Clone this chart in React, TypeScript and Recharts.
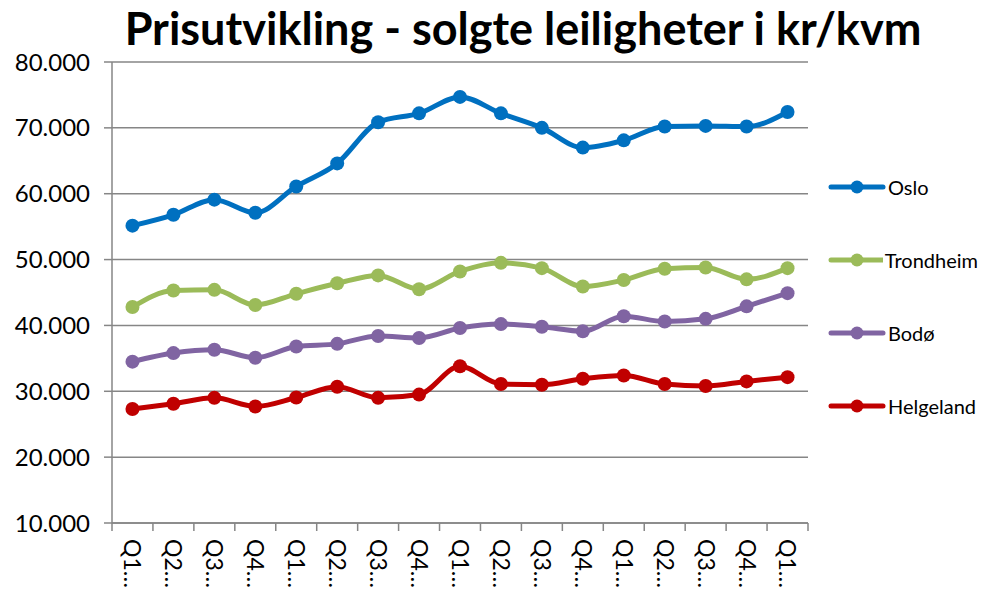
import React from "react";
import { LineChart, Line, XAxis, YAxis, CartesianGrid, Legend } from "recharts";

const quarters = ["Q1…","Q2…","Q3…","Q4…","Q1…","Q2…","Q3…","Q4…","Q1…","Q2…","Q3…","Q4…","Q1…","Q2…","Q3…","Q4…","Q1…"];
const oslo = [55150, 56800, 59100, 57100, 61100, 64600, 70850, 72200, 74700, 72200, 70000, 67000, 68100, 70200, 70300, 70200, 72400];
const trondheim = [42800, 45300, 45400, 43100, 44800, 46400, 47600, 45500, 48200, 49500, 48700, 45900, 46900, 48600, 48800, 47000, 48700];
const bodo = [34500, 35800, 36300, 35100, 36800, 37200, 38400, 38100, 39600, 40200, 39800, 39100, 41400, 40600, 41000, 42900, 44900];
const helgeland = [27300, 28100, 29000, 27700, 29050, 30700, 29000, 29500, 33800, 31100, 31000, 31900, 32400, 31100, 30800, 31500, 32150];
const yTicks = [10000, 20000, 30000, 40000, 50000, 60000, 70000, 80000];

const series = [
  { key: "oslo", name: "Oslo", color: "#0070C0", values: oslo },
  { key: "trondheim", name: "Trondheim", color: "#9BBB59", values: trondheim },
  { key: "bodo", name: "Bodø", color: "#8064A2", values: bodo },
  { key: "helgeland", name: "Helgeland", color: "#C00000", values: helgeland },
];

const data = quarters.map((q, i) => {
  const row: Record<string, string | number> = { q };
  series.forEach((s) => (row[s.key] = s.values[i]));
  return row;
});

const FONT = "Lato, 'Liberation Sans', sans-serif";
const AXIS = "#868686";
// half a category slot, so points sit between the boundary ticks like in Excel
const HALF_BAND = 696 / quarters.length / 2;

const fmt = (v: number) => `${Math.round(v / 1000)}.000`;

function XTick(props: any) {
  const { x, y, payload, index } = props;
  const last = index === quarters.length - 1;
  return (
    <g>
      <line x1={x - HALF_BAND} x2={x - HALF_BAND} y1={y} y2={y + 8} stroke={AXIS} strokeWidth={1.5} />
      {last && <line x1={x + HALF_BAND} x2={x + HALF_BAND} y1={y} y2={y + 8} stroke={AXIS} strokeWidth={1.5} />}
      <text
        transform={`translate(${x},${y + 16}) rotate(90)`}
        textAnchor="start"
        dy="0.35em"
        fontSize={23}
        fontFamily={FONT}
        fill="#000"
      >
        {payload.value}
      </text>
    </g>
  );
}

function LegendBox(props: any) {
  const payload = props.payload || [];
  const ordered = series
    .map((s) => payload.find((p: any) => p.value === s.name))
    .filter(Boolean);
  return (
    <div style={{ width: 150, fontFamily: FONT }}>
      {ordered.map((p: any) => (
        <div key={p.value} style={{ display: "flex", alignItems: "center", height: 73 }}>
          <svg width={58} height={16} style={{ marginRight: 2 }}>
            <line x1={3} x2={55} y1={8} y2={8} stroke={p.color} strokeWidth={5} strokeLinecap="round" />
            <circle cx={29} cy={8} r={6.5} fill={p.color} />
          </svg>
          <span style={{ fontSize: 20, color: "#000" }}>{p.value}</span>
        </div>
      ))}
    </div>
  );
}

export default function App() {
  return (
    <div style={{ position: "absolute", left: 0, top: 0, width: 986, height: 589, background: "#fff", fontFamily: FONT }}>
      <div
        style={{
          position: "absolute",
          left: 0,
          top: 2,
          width: 1046,
          textAlign: "center",
          fontSize: 45,
          fontWeight: 700,
          color: "#000",
          lineHeight: "52px",
        }}
      >
        Prisutvikling - solgte leiligheter i kr/kvm
      </div>
      <LineChart width={986} height={589} data={data} margin={{ top: 62, right: 28, bottom: 0, left: 0 }}>
        <CartesianGrid vertical={false} stroke={AXIS} strokeWidth={1.5} />
        <XAxis
          dataKey="q"
          interval={0}
          height={66}
          padding={{ left: HALF_BAND, right: HALF_BAND }}
          tickLine={false}
          tickSize={0}
          tickMargin={0}
          axisLine={{ stroke: AXIS, strokeWidth: 1.5 }}
          tick={<XTick />}
        />
        <YAxis
          width={112}
          domain={[10000, 80000]}
          ticks={yTicks}
          interval={0}
          tickFormatter={fmt}
          tickSize={8}
          tickMargin={14}
          axisLine={{ stroke: AXIS, strokeWidth: 1.5 }}
          tickLine={{ stroke: AXIS, strokeWidth: 1.5 }}
          tick={{ fill: "#000", fontSize: 24, fontFamily: FONT }}
        />
        <Legend
          layout="vertical"
          align="right"
          verticalAlign="middle"
          content={<LegendBox />}
          wrapperStyle={{ left: 828, top: 150, right: "auto", width: 150 }}
        />
        {series.map((s) => (
          <Line
            key={s.key}
            type="monotone"
            dataKey={s.key}
            name={s.name}
            stroke={s.color}
            strokeWidth={5}
            dot={{ r: 7, fill: s.color, stroke: s.color, strokeWidth: 0 }}
            activeDot={false}
            isAnimationActive={false}
          />
        ))}
      </LineChart>
    </div>
  );
}
